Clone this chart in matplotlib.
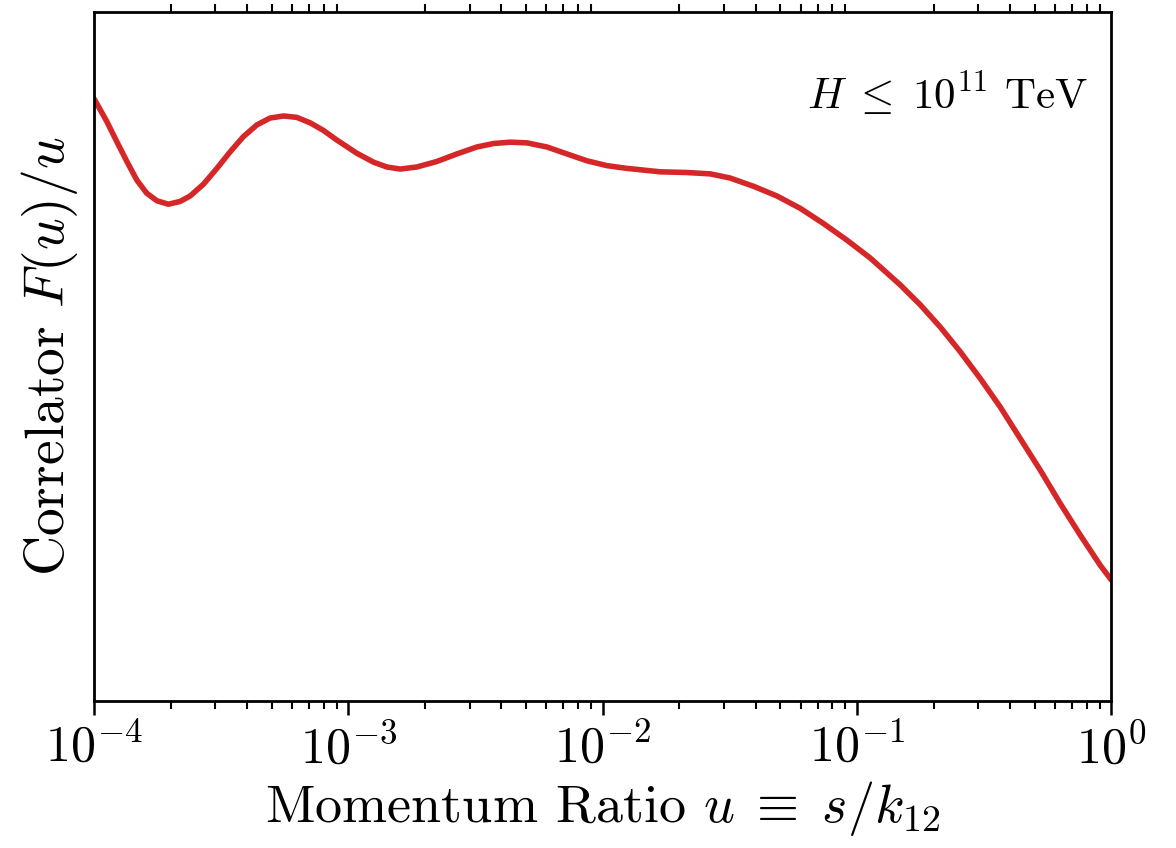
import numpy as np
import matplotlib
matplotlib.use("Agg")
import matplotlib.pyplot as plt

plt.rcParams['font.family'] = ['cmr10', 'DejaVu Serif']
plt.rcParams['mathtext.fontset'] = 'cm'
plt.rcParams['axes.formatter.use_mathtext'] = True

# log10 of momentum ratio u
log_u = [-4.000, -3.950, -3.911, -3.871, -3.832, -3.793, -3.753, -3.708, -3.662,
         -3.622, -3.570, -3.517, -3.465, -3.413, -3.360, -3.308, -3.255, -3.203,
         -3.150, -3.098, -3.045, -2.967, -2.901, -2.849, -2.796, -2.731, -2.652,
         -2.573, -2.495, -2.430, -2.364, -2.298, -2.219, -2.141, -2.062, -1.984,
         -1.905, -1.774, -1.669, -1.577, -1.499, -1.407, -1.315, -1.223, -1.132,
         -1.040, -0.948, -0.830, -0.751, -0.673, -0.594, -0.515, -0.437, -0.358,
         -0.279, -0.201, -0.122, -0.043, 0.000]
# correlator F(u)/u (arbitrary units)
corr = [0.874, 0.841, 0.812, 0.783, 0.756, 0.737, 0.726, 0.721, 0.725,
        0.733, 0.750, 0.773, 0.797, 0.819, 0.836, 0.846, 0.849, 0.847,
        0.839, 0.828, 0.814, 0.795, 0.782, 0.775, 0.772, 0.775, 0.783,
        0.794, 0.804, 0.809, 0.811, 0.810, 0.804, 0.794, 0.784, 0.777,
        0.773, 0.768, 0.767, 0.765, 0.759, 0.747, 0.733, 0.715, 0.693,
        0.669, 0.643, 0.604, 0.575, 0.543, 0.507, 0.468, 0.427, 0.381,
        0.335, 0.287, 0.241, 0.197, 0.176]

u = 10.0 ** np.array(log_u)

fig = plt.figure(figsize=(11.76, 8.48), dpi=100)
ax = fig.add_axes([0.080, 0.173, 0.865, 0.813])
ax.plot(u, corr, color='#d62728', lw=4.0, solid_capstyle='round',
        solid_joinstyle='round')
ax.set_xscale('log')
ax.set_xlim(1e-4, 1)
ax.set_ylim(0, 1)
ax.set_yticks([])

for s in ax.spines.values():
    s.set_linewidth(2.0)

ax.tick_params(axis='x', which='major', direction='out', length=10, width=1.8,
               labelsize=36, top=False, bottom=True, pad=6)
ax.tick_params(axis='x', which='minor', direction='out', length=5.5, width=1.5,
               top=True, bottom=True)

ax.set_xlabel(r'Momentum Ratio $u\;\equiv\;s/k_{12}$', fontsize=39, labelpad=4)
ax.set_ylabel(r'Correlator $F(u)/u$', fontsize=40, labelpad=10)
ax.text(0.977, 0.882, r'$H\;\leq\;10^{11}$ TeV', transform=ax.transAxes,
        ha='right', va='center', fontsize=31)

fig.savefig('out.png', dpi=100)
